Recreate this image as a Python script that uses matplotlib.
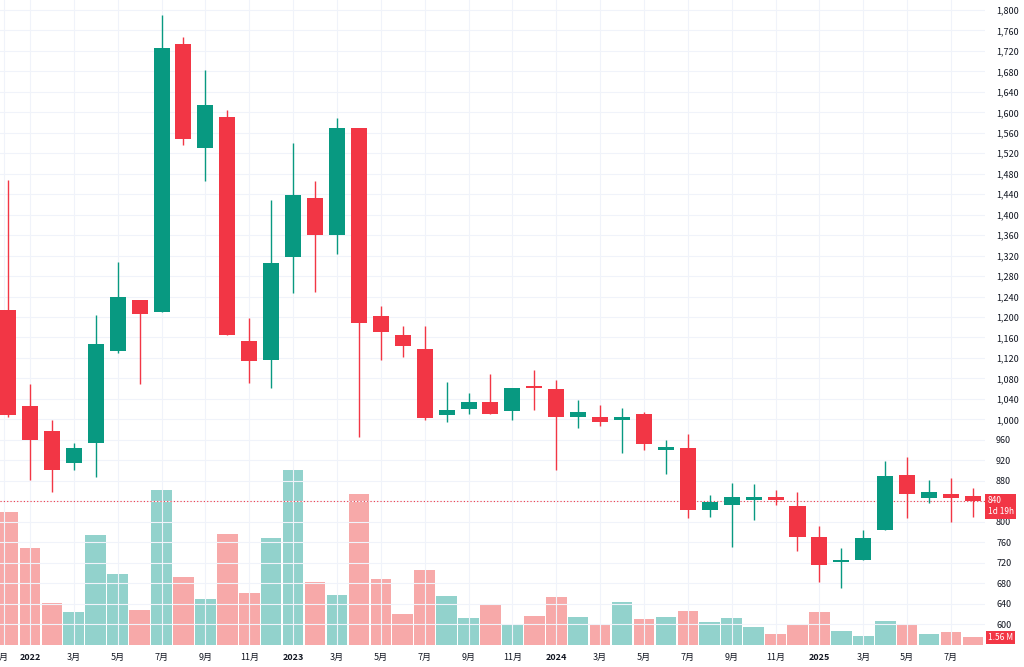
import matplotlib
matplotlib.use("Agg")
import matplotlib.pyplot as plt

plt.rcParams['font.family'] = ['Noto Sans CJK JP', 'DejaVu Sans']

# Monthly candles, Nov 2021 .. Jul 2025
opens  = [1214,1026,977,915,954,1134,1233,1210,1734,1530,1591,1153,1116,1318,1433,1360,1569,1202,1165,1138,1009,1020,1034,1016,1065,1059,1005,1005,998,1011,940,944,823,833,843,848,831,770,721,725,784,892,846,854,850]
highs  = [1468,1069,999,954,1204,1308,1233,1790,1747,1683,1605,1198,1429,1540,1466,1589,1569,1222,1183,1183,1073,1052,1089,1061,1097,1077,1038,1028,1022,1014,960,972,852,876,874,862,858,792,749,784,919,927,882,886,866]
lows   = [1005,882,858,901,887,1130,1069,1210,1536,1466,1165,1071,1061,1247,1249,1323,966,1116,1122,999,995,1010,1011,999,1018,901,983,987,934,940,893,807,809,751,803,833,743,682,670,725,784,807,837,800,809]
closes = [1009,960,901,944,1147,1239,1206,1726,1548,1614,1165,1114,1306,1439,1360,1569,1188,1171,1143,1003,1018,1034,1011,1061,1061,1005,1014,995,1005,952,946,823,839,848,848,843,770,715,725,768,890,854,858,846,840]
volumes = [26.6,19.4,8.4,6.6,22.0,14.2,7.0,31.0,13.6,9.2,22.2,10.4,21.4,35.0,12.6,10.0,30.2,13.2,6.2,15.0,9.8,5.4,8.2,4.2,5.8,9.6,5.6,4.0,8.6,5.2,5.6,6.8,4.6,5.4,3.6,2.2,4.0,6.6,2.8,1.8,4.8,4.0,2.2,2.6,1.56]
tick_pos = [-0.2,1,3,5,7,9,11,13,15,17,19,21,23,25,27,29,31,33,35,37,39,41,43]
tick_lbl = ["月","2022","3月","5月","7月","9月","11月","2023","3月","5月","7月","9月","11月","2024","3月","5月","7月","9月","11月","2025","3月","5月","7月"]
price_ticks = list(range(600, 1801, 40))
last_price = 840

UP, DN = "#089981", "#f23645"
VUP, VDN = "#92d2cc", "#f7a9a9"
YMIN, YMAX = 559, 1819.5

fig = plt.figure(figsize=(10.24, 6.67), dpi=100)
ax = fig.add_axes([0, 22/667, 985/1024, 645/667])
axv = ax.twinx()
ax.set_zorder(2); ax.patch.set_visible(False)
axv.set_zorder(1)

n = len(opens)
for i in range(n):
    up = closes[i] >= opens[i]
    c = UP if up else DN
    ax.vlines(i, lows[i], highs[i], color=c, lw=1, zorder=3)
    lo, hi = min(opens[i], closes[i]), max(opens[i], closes[i])
    ax.bar(i, max(hi-lo, 1.5), bottom=lo, width=0.73, color=c, zorder=4)
    axv.bar(i, volumes[i], width=0.94, color=VUP if up else VDN, zorder=1)

ax.set_ylim(YMIN, YMAX)
axv.set_ylim(0, 129)
axv.set_yticks([])

ax.yaxis.tick_right()
ax.set_yticks(price_ticks)
ax.set_yticklabels(["" if p == last_price else f"{p:,}" for p in price_ticks],
                   fontsize=6.5, color="#131722")
ax.tick_params(axis='y', length=0, pad=8)
ax.set_xticks(tick_pos)
ax.set_xticklabels(tick_lbl, fontsize=6.5, color="#131722")
for t in ax.get_xticklabels():
    if t.get_text().startswith("20"):
        t.set_fontweight("bold")
ax.tick_params(axis='x', length=0, pad=6)
ax.set_xlim(-0.365, 44.55)
axv.set_xlim(-0.365, 44.55)
ax.grid(True, color="#f0f3fa", lw=0.8, zorder=0)
for s in list(ax.spines.values()) + list(axv.spines.values()):
    s.set_visible(False)

ax.axhline(last_price, color=DN, lw=0.8, ls=(0, (1, 2)), zorder=2)
ax.text(1.003, (last_price-YMIN)/(YMAX-YMIN) - 0.008, "840\n1d 19h", transform=ax.transAxes,
        fontsize=6, color="white", va="center", ha="left", linespacing=1.3,
        bbox=dict(boxstyle="square,pad=0.3", fc=DN, ec="none"))
ax.text(1.003, 0.012, "1.56 M", transform=ax.transAxes, fontsize=6, color="white",
        va="center", ha="left", bbox=dict(boxstyle="square,pad=0.25", fc=DN, ec="none"))

fig.savefig("out.png", dpi=100)
